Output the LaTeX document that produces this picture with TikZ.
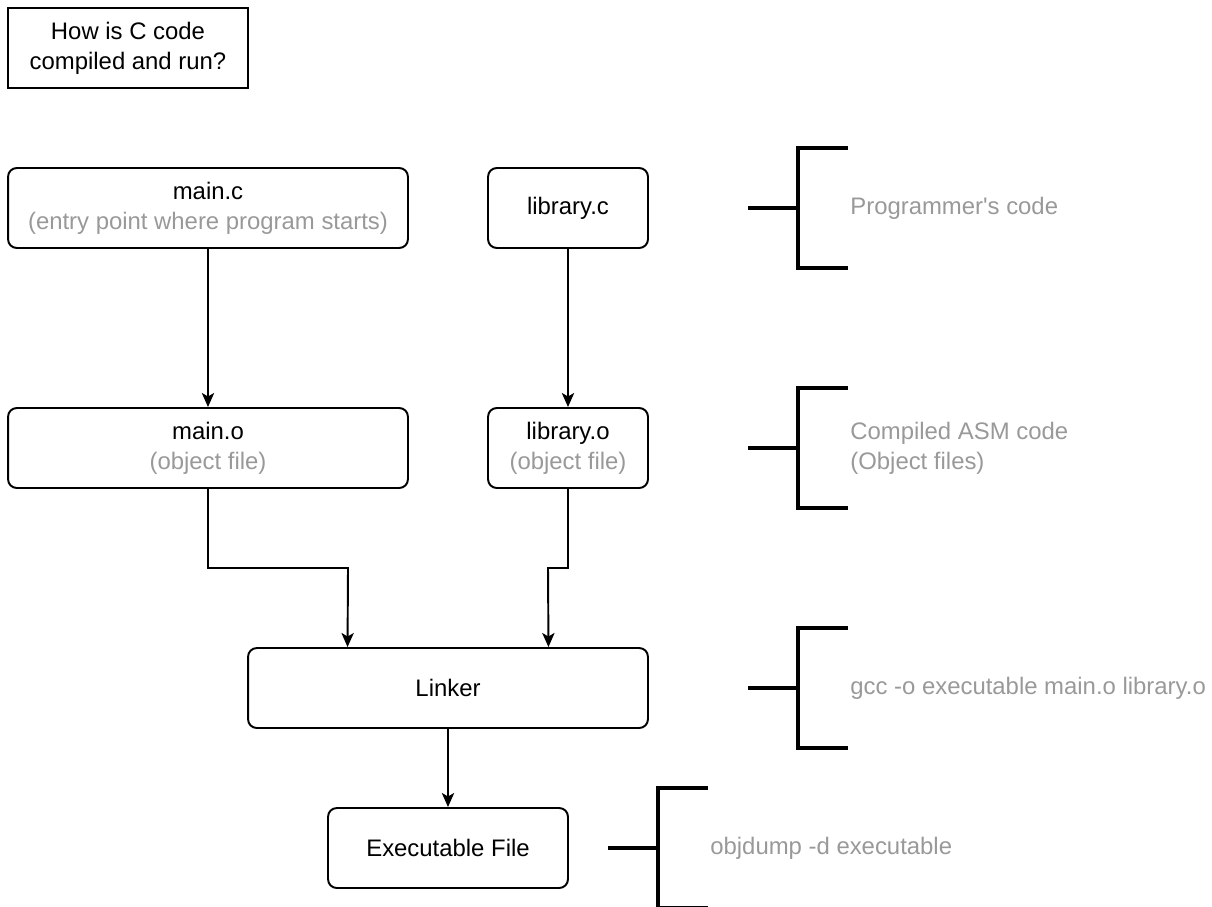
\documentclass[tikz,border=0pt]{standalone}
\usepackage{fontspec}
\setmainfont{Liberation Sans}
\newfontfamily\plainsans{Liberation Sans}
\usepackage{tikz}
\usetikzlibrary{arrows.meta, positioning, calc}
\definecolor{notegray}{RGB}{153, 153, 153}
\definecolor{inkblack}{RGB}{0, 0, 0}

\begin{document}
\begin{tikzpicture}[
    x=0.02cm, y=-0.02cm,
    >={Stealth[length=8pt, width=7pt, inset=2pt]},
    every node/.style={font=\plainsans\fontsize{13.6}{17}\selectfont},
    filebox/.style={draw=inkblack, line width=1.1pt, rounded corners=5pt,
        align=center, minimum height=1.6cm, inner sep=0pt},
    titlebox/.style={draw=inkblack, line width=1.1pt, align=center,
        minimum width=4.8cm, minimum height=1.6cm, inner sep=0pt},
    note/.style={anchor=west, align=left, text=notegray, inner sep=0pt},
    flow/.style={->, line width=1.1pt, inkblack},
    brace/.style={line width=1.8pt, inkblack}
]
    \useasboundingbox (0,0) rectangle (1212,906);

    \node[titlebox] (title) at (128,48) {How is C code\\compiled and run?};

    % source files
    \node[filebox, minimum width=8cm] (mainc) at (208,208)
        {main.c\\\textcolor{notegray}{(entry point where program starts)}};
    \node[filebox, minimum width=3.2cm] (libc) at (568,208) {library.c};

    % object files
    \node[filebox, minimum width=8cm] (maino) at (208,448)
        {main.o\\\textcolor{notegray}{(object file)}};
    \node[filebox, minimum width=3.2cm] (libo) at (568,448)
        {library.o\\\textcolor{notegray}{(object file)}};

    \node[filebox, minimum width=8cm] (linker) at (448,688) {Linker};
    \node[filebox, minimum width=4.8cm] (exe) at (448,848) {Executable File};

    \draw[flow] (mainc.south) -- (maino.north);
    \draw[flow] (libc.south) -- (libo.north);
    \draw[flow] (maino.south) |- (348,568) -- ($(linker.north west)!0.25!(linker.north east)$);
    \draw[flow] (libo.south) |- (548,568) -- ($(linker.north west)!0.75!(linker.north east)$);
    \draw[flow] (linker.south) -- (exe.north);

    % brackets with notes
    \foreach \ypos/\xstub/\txt [count=\i] in {
        208/748/{Programmer's code},
        448/748/{Compiled ASM code\\(Object files)},
        688/748/{gcc -o executable main.o library.o},
        848/608/{objdump -d executable}} {
        \coordinate (stub\i) at (\xstub,\ypos);
        \coordinate (spine\i) at (\xstub+50,\ypos);
        \draw[brace] (stub\i) -- (spine\i);
        \draw[brace] ($(spine\i)+(50,-60)$) -- ($(spine\i)+(0,-60)$)
            -- ($(spine\i)+(0,60)$) -- ($(spine\i)+(50,60)$);
        \node[note] (note\i) at ($(spine\i)+(52,0)$) {\txt};
    }
\end{tikzpicture}
\end{document}
